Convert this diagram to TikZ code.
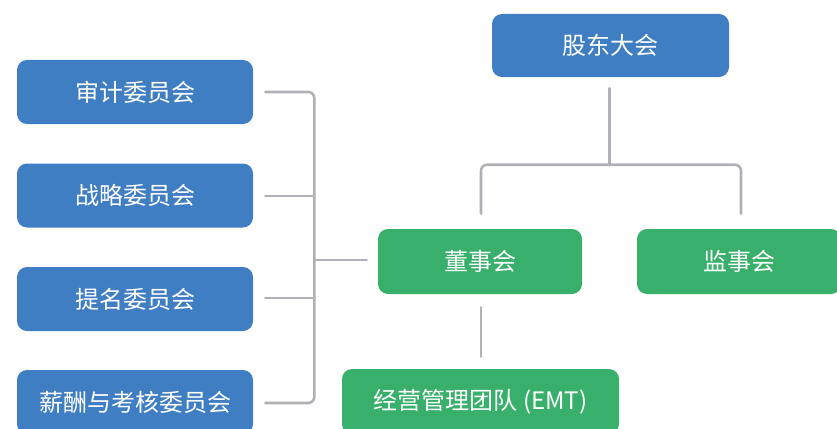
\documentclass[tikz,border=0pt]{standalone}
\usepackage{fontspec}
\newfontfamily\cjk{Noto Sans CJK SC}
\usetikzlibrary{calc}
\definecolor{boxblue}{RGB}{64,126,196}
\definecolor{boxgreen}{RGB}{56,175,106}
\definecolor{linegray}{RGB}{176,176,182}
\begin{document}
\begin{tikzpicture}[x=0.75pt,y=-0.75pt,
  orgbox/.style={rounded corners=7.5pt, text=white, inner sep=0pt,
    font=\cjk\fontsize{18}{22}\selectfont, minimum height=48pt},
  bluebox/.style={orgbox, fill=boxblue, minimum width=177pt},
  greenbox/.style={orgbox, fill=boxgreen, minimum height=48.75pt},
  conn/.style={draw=linegray, line width=1.9pt, line cap=round, rounded corners=4.5pt}]
\useasboundingbox (0,0) rectangle (837,428);
\clip (0,0) rectangle (837,428);
\node[bluebox, minimum width=177.75pt, minimum height=47.25pt] (gd) at (610.5,45.5) {股东大会};
\node[bluebox] (sj) at (135,92) {审计委员会};
\node[bluebox] (zl) at (135,195.5) {战略委员会};
\node[bluebox] (tm) at (135,299) {提名委员会};
\node[bluebox] (xc) at (135,402) {薪酬与考核委员会};
\node[greenbox, minimum width=153pt] (ds) at (480,261.5) {董事会};
\node[greenbox, minimum width=153pt] (js) at (739,261.5) {监事会};
\node[greenbox, minimum width=207.75pt] (emt) at (480.5,401.5) {经营管理团队 (EMT)};
% left bracket
\draw[conn] ($(sj.east)+(12,0)$) -- ($(sj.east)+(61,0)$) -- ($(xc.east)+(61,1)$) -- ($(xc.east)+(12,1)$);
\draw[conn] ($(zl.east)+(12,0.5)$) -- ($(zl.east)+(61,0.5)$);
\draw[conn] ($(tm.east)+(12,-1)$) -- ($(tm.east)+(61,-1)$);
\coordinate (lj) at ($(sj.east)+(61,0)$);
\draw[conn] (lj |- ds.west) ++(0,-1.5) -- ($(ds.west)+(-11,-1.5)$);
% top tree
\draw[conn] ($(gd.south)+(-1,11)$) -- ($(gd.south)+(-1,88)$);
\draw[conn] ($(ds.north)+(1,-15)$) -- ($(ds.north)+(1,-64)$) -- ($(js.north)+(2,-64)$) -- ($(js.north)+(2,-15)$);
% board to EMT
\draw[conn] ($(ds.south)+(1,13)$) -- ($(emt.north)+(0.5,-12)$);
\end{tikzpicture}
\end{document}
